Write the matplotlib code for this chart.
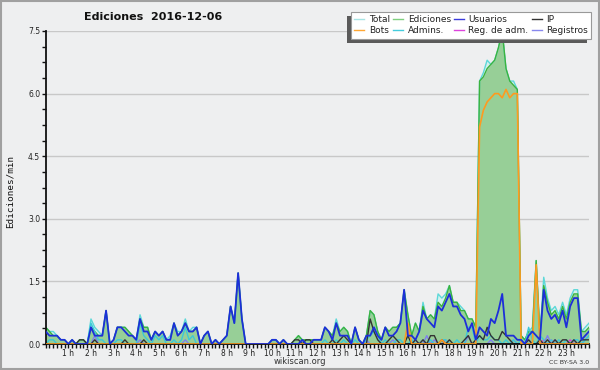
import numpy as np
import matplotlib
matplotlib.use("Agg")
import matplotlib.pyplot as plt
from matplotlib.patches import Rectangle

# valores en ediciones/min, intervalos de 10 minutos (0 h .. 24 h)
total = [
    0.4, 0.3, 0.3, 0.2, 0.1, 0.1, 0.0, 0.1, 0.0, 0.1, 0.1, 0.0,
    0.6, 0.4, 0.3, 0.2, 0.8, 0.0, 0.1, 0.4, 0.4, 0.4, 0.3, 0.2,
    0.1, 0.7, 0.4, 0.4, 0.1, 0.3, 0.2, 0.3, 0.1, 0.2, 0.5, 0.3,
    0.3, 0.6, 0.3, 0.4, 0.4, 0.0, 0.2, 0.3, 0.0, 0.1, 0.0, 0.1,
    0.2, 0.9, 0.5, 1.7, 0.6, 0.0, 0.0, 0.0, 0.0, 0.0, 0.0, 0.0,
    0.1, 0.1, 0.0, 0.1, 0.0, 0.0, 0.1, 0.2, 0.1, 0.1, 0.1, 0.1,
    0.1, 0.1, 0.4, 0.3, 0.2, 0.6, 0.3, 0.4, 0.3, 0.0, 0.4, 0.1,
    0.0, 0.2, 0.8, 0.7, 0.3, 0.1, 0.4, 0.3, 0.4, 0.4, 0.5, 1.3,
    0.7, 0.2, 0.5, 0.3, 1.0, 0.6, 0.7, 0.6, 1.2, 1.1, 1.2, 1.4,
    1.0, 1.0, 0.9, 0.8, 0.6, 0.6, 0.4, 6.3, 6.5, 6.8, 6.7, 6.8,
    7.1, 7.5, 6.6, 6.3, 6.3, 6.1, 0.2, 0.1, 0.3, 0.4, 2.0, 0.2,
    1.6, 1.1, 0.8, 0.9, 0.7, 1.0, 0.7, 1.1, 1.3, 1.3, 0.3, 0.4,
    0.5]

ediciones = [
    0.4, 0.3, 0.2, 0.2, 0.1, 0.1, 0.0, 0.1, 0.0, 0.1, 0.1, 0.0,
    0.4, 0.3, 0.2, 0.2, 0.8, 0.0, 0.1, 0.4, 0.4, 0.4, 0.3, 0.2,
    0.1, 0.6, 0.4, 0.4, 0.1, 0.3, 0.2, 0.3, 0.1, 0.1, 0.5, 0.2,
    0.3, 0.5, 0.3, 0.3, 0.4, 0.0, 0.2, 0.3, 0.0, 0.1, 0.0, 0.1,
    0.2, 0.9, 0.5, 1.7, 0.6, 0.0, 0.0, 0.0, 0.0, 0.0, 0.0, 0.0,
    0.1, 0.1, 0.0, 0.1, 0.0, 0.0, 0.1, 0.2, 0.1, 0.1, 0.1, 0.1,
    0.1, 0.1, 0.4, 0.3, 0.2, 0.5, 0.3, 0.4, 0.3, 0.0, 0.4, 0.1,
    0.0, 0.2, 0.8, 0.7, 0.3, 0.1, 0.4, 0.3, 0.4, 0.4, 0.5, 1.3,
    0.7, 0.2, 0.5, 0.3, 0.9, 0.6, 0.7, 0.6, 1.0, 0.9, 1.1, 1.4,
    1.0, 1.0, 0.8, 0.8, 0.6, 0.6, 0.4, 6.3, 6.4, 6.6, 6.7, 6.8,
    7.1, 7.5, 6.6, 6.3, 6.2, 6.1, 0.2, 0.1, 0.3, 0.3, 2.0, 0.2,
    1.4, 1.0, 0.7, 0.8, 0.6, 0.9, 0.6, 1.0, 1.2, 1.2, 0.3, 0.3,
    0.4]

usuarios = [
    0.3, 0.2, 0.2, 0.2, 0.1, 0.1, 0.0, 0.1, 0.0, 0.0, 0.0, 0.0,
    0.4, 0.2, 0.2, 0.2, 0.8, 0.0, 0.1, 0.4, 0.4, 0.3, 0.2, 0.2,
    0.1, 0.6, 0.3, 0.3, 0.1, 0.3, 0.2, 0.3, 0.1, 0.1, 0.5, 0.2,
    0.3, 0.5, 0.3, 0.3, 0.4, 0.0, 0.2, 0.3, 0.0, 0.1, 0.0, 0.1,
    0.2, 0.9, 0.5, 1.7, 0.6, 0.0, 0.0, 0.0, 0.0, 0.0, 0.0, 0.0,
    0.1, 0.1, 0.0, 0.1, 0.0, 0.0, 0.0, 0.0, 0.1, 0.0, 0.0, 0.1,
    0.1, 0.1, 0.4, 0.3, 0.1, 0.5, 0.2, 0.2, 0.2, 0.0, 0.4, 0.1,
    0.0, 0.2, 0.2, 0.4, 0.2, 0.1, 0.4, 0.2, 0.2, 0.3, 0.5, 1.3,
    0.2, 0.2, 0.1, 0.3, 0.8, 0.6, 0.5, 0.4, 0.9, 0.8, 1.0, 1.2,
    0.9, 0.9, 0.7, 0.6, 0.3, 0.5, 0.1, 0.4, 0.3, 0.2, 0.6, 0.5,
    0.8, 1.2, 0.2, 0.2, 0.2, 0.1, 0.1, 0.0, 0.2, 0.3, 0.2, 0.1,
    1.3, 0.8, 0.6, 0.7, 0.5, 0.8, 0.4, 0.9, 1.1, 1.1, 0.1, 0.2,
    0.3]

ip = [
    0, 0, 0, 0, 0, 0, 0, 0, 0, 0.1, 0.1, 0,
    0, 0.1, 0, 0, 0, 0, 0, 0, 0, 0.1, 0, 0,
    0, 0, 0.1, 0, 0, 0, 0, 0, 0, 0, 0, 0,
    0, 0, 0, 0, 0, 0, 0, 0, 0, 0, 0, 0,
    0, 0, 0, 0, 0, 0, 0, 0, 0, 0, 0, 0,
    0, 0, 0, 0, 0, 0, 0.1, 0.1, 0, 0.1, 0.1, 0,
    0, 0, 0, 0, 0.1, 0, 0.1, 0.2, 0.1, 0, 0, 0,
    0, 0, 0.6, 0.3, 0.1, 0, 0, 0.1, 0.2, 0.1, 0, 0,
    0.2, 0, 0.1, 0, 0.1, 0, 0.2, 0.2, 0, 0.1, 0, 0.1,
    0, 0, 0, 0.1, 0.2, 0, 0.1, 0.2, 0.1, 0.4, 0.2, 0.1,
    0.1, 0.3, 0.2, 0.1, 0, 0, 0, 0, 0.1, 0, 0, 0.1,
    0, 0.1, 0, 0.1, 0, 0.1, 0.1, 0, 0.1, 0, 0.1, 0.1,
    0.1]

bots = [
    0, 0, 0, 0, 0, 0, 0, 0, 0, 0, 0, 0,
    0, 0, 0, 0, 0, 0, 0, 0, 0, 0, 0, 0,
    0, 0, 0, 0, 0, 0, 0, 0, 0, 0, 0, 0,
    0, 0, 0, 0, 0, 0, 0, 0, 0, 0, 0, 0,
    0, 0, 0, 0, 0, 0, 0, 0, 0, 0, 0, 0,
    0, 0, 0, 0, 0, 0, 0, 0, 0, 0, 0, 0,
    0, 0, 0, 0, 0, 0, 0, 0, 0, 0, 0, 0,
    0, 0, 0, 0, 0, 0, 0, 0, 0, 0, 0, 0,
    0.5, 0, 0, 0, 0, 0, 0, 0, 0, 0.1, 0, 0,
    0, 0, 0, 0, 0, 0, 0, 5.2, 5.6, 5.8, 5.9, 6.0,
    6.0, 5.9, 6.1, 5.9, 6.0, 6.0, 0, 0, 0, 0, 1.9, 0,
    0, 0, 0, 0, 0, 0, 0, 0, 0, 0, 0, 0,
    0]

admins = [
    0, 0.1, 0.1, 0, 0, 0, 0, 0, 0, 0, 0, 0,
    0.5, 0.3, 0.1, 0.1, 0, 0, 0, 0.1, 0.1, 0, 0, 0,
    0, 0.5, 0.2, 0.1, 0, 0.2, 0.1, 0.2, 0, 0, 0.1, 0,
    0.1, 0.4, 0.1, 0.2, 0, 0, 0, 0, 0, 0, 0, 0,
    0, 0, 0, 0, 0, 0, 0, 0, 0, 0, 0, 0,
    0.1, 0.1, 0, 0, 0, 0, 0, 0, 0, 0, 0, 0,
    0, 0, 0.1, 0, 0, 0.1, 0, 0.1, 0, 0, 0.1, 0,
    0, 0.1, 0.2, 0.3, 0.2, 0, 0.1, 0, 0, 0.1, 0.1, 0,
    0, 0.1, 0, 0, 0.1, 0, 0.1, 0, 0, 0.1, 0.1, 0,
    0, 0.1, 0, 0, 0.4, 0.4, 0, 0.2, 0.1, 0.1, 0.2, 0.1,
    0.1, 0, 0.1, 0, 0.1, 0, 0.1, 0, 0.4, 0.1, 0, 0.2,
    0.1, 0, 0.1, 0, 0.1, 0, 0.1, 0, 0.1, 0.1, 0, 0.1,
    0.2]

reg_adm = [0] * 100 + [0.1] + [0] * 31 + [0.1, 0, 0.1, 0, 0, 0, 0, 0.1] + [0] * 5

registros = [
    0, 0, 0, 0, 0, 0, 0, 0, 0, 0, 0, 0,
    0, 0.2, 0, 0, 0, 0, 0, 0, 0, 0, 0, 0,
    0, 0.1, 0, 0, 0, 0, 0, 0, 0, 0, 0, 0,
    0, 0.1, 0, 0, 0, 0, 0, 0, 0, 0, 0, 0,
    0, 0, 0, 0, 0, 0, 0, 0, 0, 0, 0, 0,
    0, 0, 0, 0, 0, 0, 0, 0, 0, 0, 0, 0,
    0, 0, 0, 0, 0, 0, 0, 0, 0, 0, 0, 0,
    0, 0.1, 0, 0, 0, 0, 0, 0, 0.1, 0, 0, 0,
    0, 0, 0.1, 0, 0, 0.2, 0, 0.1, 0, 0, 0.1, 0,
    0, 0, 0, 0, 0.2, 0, 0, 0, 0, 0, 0.1, 0,
    0, 0, 0, 0, 0.1, 0, 0, 0, 0.1, 0, 0, 0,
    0, 0.2, 0, 0.1, 0, 0, 0, 0, 0.1, 0, 0, 0.1,
    0.2]

horas = np.arange(len(total)) / 6.0
etiquetas_x = [f"{h} h" for h in range(1, 24)]

bg = "#eeeff0"
fig = plt.figure(figsize=(6, 3.7), dpi=100, facecolor=bg)
ax = fig.add_axes([45.7 / 600, 26 / 370, (589 - 45.7) / 600, (344 - 31) / 370])
ax.set_facecolor(bg)

# rellenos
ax.fill_between(horas, total, color="#d3f1ee", lw=0, zorder=1)
ax.fill_between(horas, ediciones, color="#97cf97", lw=0, zorder=1.5)

ax.plot(horas, total, color="#5cd8d8", lw=1, zorder=2)
ax.plot(horas, ediciones, color="#3db33d", lw=1, zorder=2.1)
ax.plot(horas, registros, color="#7f7fee", lw=1, zorder=2.2)
ax.plot(horas, reg_adm, color="#dd44dd", lw=1, zorder=2.3)
ax.plot(horas, admins, color="#3cc8d8", lw=1, zorder=2.4)
ax.plot(horas, ip, color="#333333", lw=1, zorder=2.5)
ax.plot(horas, bots, color="#ff9a1f", lw=1.2, zorder=2.6)
ax.plot(horas, usuarios, color="#1d2fd9", lw=1.3, zorder=2.7)

ax.set_xlim(0, 24)
ax.set_ylim(0, 7.5)
ax.set_xticks(range(1, 24))
ax.set_xticklabels(etiquetas_x)
ax.set_xticks(np.arange(0, 24.01, 1 / 6), minor=True)
ax.set_yticks(np.arange(0, 7.51, 1.5))
ax.set_yticklabels([f"{v:.1f}" for v in np.arange(0, 7.51, 1.5)])
ax.set_yticks(np.arange(0, 7.51, 0.375), minor=True)
ax.tick_params(axis="both", which="both", direction="out", length=3,
               width=1, colors="#111111", labelsize=5.5, labelcolor="#222222")
ax.tick_params(axis="x", which="major", pad=0.5)
ax.tick_params(axis="y", which="major", pad=1)
ax.grid(axis="y", which="major", color="#c8c8c8", lw=1, zorder=0)
ax.set_axisbelow(True)
for s in ["top", "right"]:
    ax.spines[s].set_visible(False)
for s in ["left", "bottom"]:
    ax.spines[s].set_color("#111111")
    ax.spines[s].set_linewidth(1.3)

fig.text(153 / 600, 1 - 17 / 370, "Ediciones  2016-12-06", ha="center", va="center",
         fontsize=8, fontweight="bold", color="#111111")
fig.text(10 / 600, 1 - 191 / 370, "Ediciones/min", rotation=90, ha="center", va="center",
         fontsize=6.7, family="DejaVu Sans Mono", color="#111111")
fig.text(0.5, 1 - 361 / 370, "wikiscan.org", ha="center", va="center",
         fontsize=6, color="#333333")
fig.text(589 / 600, 1 - 362 / 370, "CC BY-SA 3.0", ha="right", va="center",
         fontsize=4.5, color="#333333")

# leyenda
nombres = ["Total", "Bots", "Ediciones", "Admins.", "Usuarios", "Reg. de adm.", "IP", "Registros"]
colores = ["#a8e4e4", "#ffa733", "#7fcf7f", "#44ccdd", "#3b3bdd", "#dd44dd", "#333333", "#8888ee"]
handles = [plt.Line2D([], [], color=c, lw=1) for c in colores]
leg = fig.legend(handles, nombres, ncol=4, loc="upper right",
                 bbox_to_anchor=(591 / 600, 1 - 12 / 370), bbox_transform=fig.transFigure,
                 borderaxespad=0, fontsize=6.5, frameon=True, fancybox=False,
                 framealpha=1, edgecolor="#999999", facecolor="white",
                 handlelength=1.1, handletextpad=0.5, columnspacing=0.35,
                 labelspacing=0.25, borderpad=0.35)
leg.get_frame().set_linewidth(0.8)
for t in leg.get_texts():
    t.set_color("#222222")
leg.set_zorder(5)

fig.canvas.draw()
bb = leg.get_frame().get_window_extent()
fig.patches.append(Rectangle(((bb.x0 - 4) / 600, (bb.y0 - 4) / 370), bb.width / 600, bb.height / 370,
                             transform=fig.transFigure, facecolor="#5a5a5a", edgecolor="none",
                             zorder=4))
fig.patches.append(Rectangle((0.0015, 0.0025), 0.997, 0.995, transform=fig.transFigure,
                             fill=False, edgecolor="#a0a0a0", lw=1.5, zorder=10))

fig.savefig("out.png", dpi=100, facecolor=bg)
